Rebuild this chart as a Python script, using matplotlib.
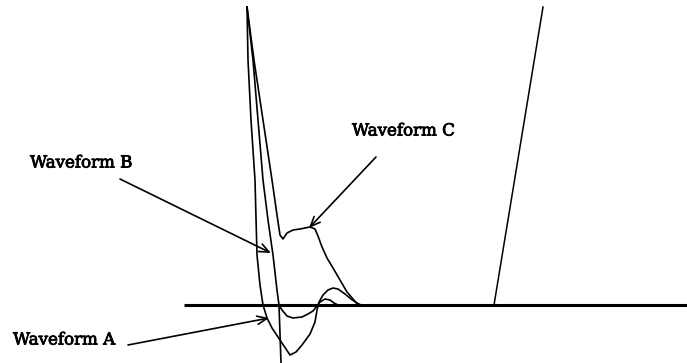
import numpy as np
import matplotlib
matplotlib.use('Agg')
import matplotlib.pyplot as plt
import matplotlib.patheffects as pe

# traces in pixel coordinates (y grows downward)
wave_a_x = [247, 248, 251, 255, 257, 260, 263, 267, 272, 280, 290, 296, 302, 310, 315, 317, 319, 323, 328, 333, 338, 345, 351, 357, 361]
wave_a_y = [7, 60, 120, 180, 255, 285, 305, 318, 328, 340, 355, 352, 345, 334, 322, 310, 302, 295, 290, 288, 289, 294, 299, 303, 305]

wave_b_x = [247, 253, 258, 263, 268, 273, 277, 279, 281]
wave_b_y = [7, 60, 120, 180, 220, 255, 290, 305, 363]
wave_b_tail_x = [279, 282, 287, 293, 302, 308, 313, 317, 320, 325, 330, 334, 338]
wave_b_tail_y = [305, 310, 316, 318, 317, 314, 311, 306, 302, 299, 300, 303, 305]

wave_c_x = [247, 254, 263, 272, 277, 280, 283, 287, 293, 300, 310, 315, 318, 322, 327, 333, 340, 347, 353, 358]
wave_c_y = [7, 60, 120, 180, 215, 235, 239, 233, 230, 229, 227, 229, 236, 247, 258, 268, 280, 292, 299, 305]

baseline_x = [184, 687]
baseline_y = [305, 305]
ramp_x = [494, 543]
ramp_y = [305, 7]

labels = ['Waveform A', 'Waveform B', 'Waveform C']
label_xy = [(13, 340), (30, 163), (352, 131)]
arrow_from = [(128, 345), (120, 179), (376, 157)]
arrow_to = [(269, 318), (271, 253), (309, 228)]

fig = plt.figure(figsize=(6.87, 3.63), dpi=100)
ax = fig.add_axes([0, 0, 1, 1])
ax.set_xlim(0, 687)
ax.set_ylim(363, 0)
ax.axis('off')

ink = 'black'
ax.plot(baseline_x, baseline_y, color=ink, lw=2.2, solid_capstyle='butt')
ax.plot(ramp_x, ramp_y, color=ink, lw=1.1)
ax.plot(wave_a_x, wave_a_y, color=ink, lw=1.2)
ax.plot(wave_b_x, wave_b_y, color=ink, lw=1.2)
ax.plot(wave_b_tail_x, wave_b_tail_y, color=ink, lw=1.2)
ax.plot(wave_c_x, wave_c_y, color=ink, lw=1.2)

for lab, (tx, ty), src, dst in zip(labels, label_xy, arrow_from, arrow_to):
    ax.text(tx, ty, lab, family='DejaVu Serif', fontsize=12, color=ink,
            ha='left', va='center',
            path_effects=[pe.withStroke(linewidth=0.6, foreground=ink)])
    ax.annotate('', xy=dst, xytext=src,
                arrowprops=dict(arrowstyle='->,head_length=0.7,head_width=0.3',
                                color=ink, lw=1.2, shrinkA=0, shrinkB=0))

fig.savefig('out.png', dpi=100, facecolor='white')
